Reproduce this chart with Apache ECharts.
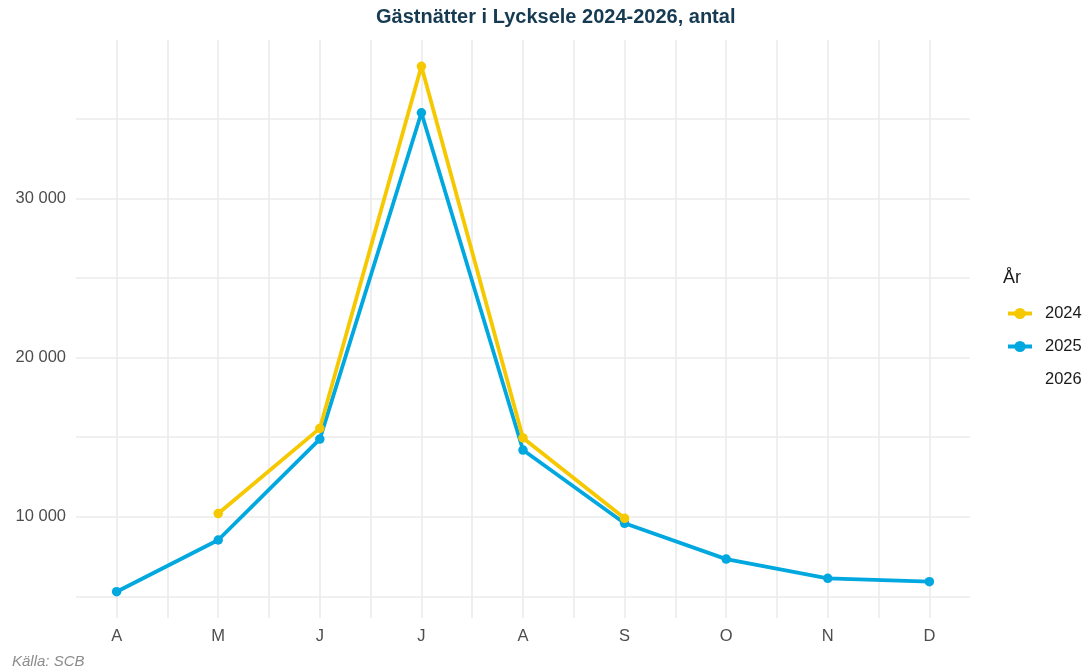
<!DOCTYPE html>
<html>
<head>
<meta charset="utf-8">
<script src="https://cdn.jsdelivr.net/npm/echarts@6/dist/echarts.min.js"></script>
<style>html,body{margin:0;padding:0;background:#fff}#c{width:1088px;height:670px}</style>
</head>
<body>
<div id="c"></div>
<script>
const monthLabels = ['A','M','J','J','A','S','O','N','D'];
const monthNums = [4,5,6,7,8,9,10,11,12];
const values2024 = [null, 10200, 15550, 38300, 14950, 9900, null, null, null];
const values2025 = [5290, 8540, 14880, 35380, 14190, 9590, 7340, 6130, 5920];
const values2026 = [null, null, null, null, null, null, null, null, null];
const yLabelTicks = [10000, 20000, 30000];
const yGridTicks = [5000, 10000, 15000, 20000, 25000, 30000, 35000];
const xGridTicks = [4,4.5,5,5.5,6,6.5,7,7.5,8,8.5,9,9.5,10,10.5,11,11.5,12];

const FONT = '"Liberation Sans", Arial, sans-serif';
function pairs(vals){ const out=[]; vals.forEach((v,i)=>{ if(v!=null) out.push([monthNums[i], v]); }); return out; }
const all = values2024.concat(values2025).filter(v=>v!=null);
const dMin = Math.min(...all), dMax = Math.max(...all), pad = (dMax-dMin)*0.05;
const xPad = (monthNums[monthNums.length-1]-monthNums[0])*0.05;

const chart = echarts.init(document.getElementById('c'), null, {renderer:'canvas'});
const gridStyle = {show:true, lineStyle:{color:'#ebebeb', width:1.6}};
chart.setOption({
  animation:false,
  backgroundColor:'#ffffff',
  grid:{left:76, right:118, top:40, bottom:52},
  xAxis:{
    type:'value', min: monthNums[0]-xPad, max: monthNums[monthNums.length-1]+xPad,
    axisLine:{show:false}, axisTick:{show:false, customValues: xGridTicks},
    splitLine: gridStyle,
    axisLabel:{customValues: monthNums, formatter: v => monthLabels[monthNums.indexOf(Math.round(v))] || '',
      color:'#4d4d4d', fontSize:16.5, fontFamily:FONT, margin:10}
  },
  yAxis:{
    type:'value', min: dMin-pad, max: dMax+pad,
    axisLine:{show:false}, axisTick:{show:false, customValues: yGridTicks},
    splitLine: gridStyle,
    axisLabel:{customValues: yLabelTicks, formatter: v => String(Math.round(v)).replace(/\B(?=(\d{3})+(?!\d))/g,' '),
      color:'#4d4d4d', fontSize:16.5, fontFamily:FONT, margin:10}
  },
  legend:{
    orient:'vertical', left:1006, top:305, padding:0, itemWidth:24, itemHeight:14, itemGap:16,
    lineStyle:{width:4},
    textStyle:{color:'#1a1a1a', fontSize:16.5, fontFamily:FONT, padding:[0,0,0,8]},
    data:['2024','2025','2026']
  },
  series:[
    {name:'2024', type:'line', data:pairs(values2024), symbol:'circle', symbolSize:9.5, showAllSymbol:true,
      lineStyle:{color:'#F6C800', width:3.8}, itemStyle:{color:'#F6C800'}, z:3},
    {name:'2025', type:'line', data:pairs(values2025), symbol:'circle', symbolSize:9.5, showAllSymbol:true,
      lineStyle:{color:'#00A8DF', width:3.8}, itemStyle:{color:'#00A8DF'}, z:2},
    {name:'2026', type:'line', data:pairs(values2026), symbol:'none',
      lineStyle:{color:'rgba(0,0,0,0)', width:0}, itemStyle:{color:'rgba(0,0,0,0)'}}
  ],
  graphic:[
    {type:'text', left:376, top:7, style:{text:'Gästnätter i Lycksele 2024-2026, antal',
      font:'bold 20px "Liberation Sans Narrow", "Liberation Sans", Arial, sans-serif', fill:'#163a52'}},
    {type:'text', left:1003, top:269, style:{text:'År', font:'18px "Liberation Sans", Arial, sans-serif', fill:'#1a1a1a'}},
    {type:'text', left:12, top:654, style:{text:'Källa: SCB', font:'italic 15px "Liberation Sans", Arial, sans-serif', fill:'#8c8c8c'}}
  ]
});
</script>
</body>
</html>
